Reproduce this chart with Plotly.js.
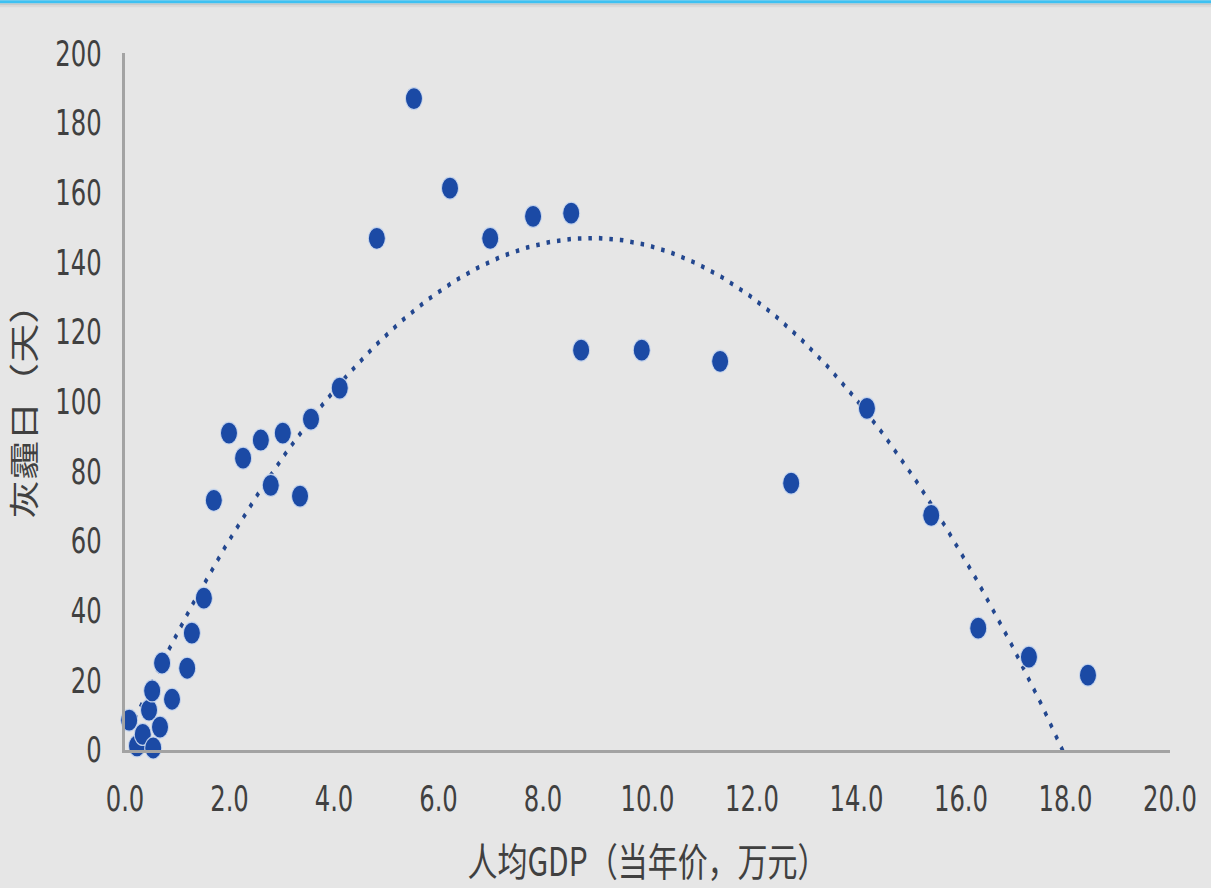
<!DOCTYPE html>
<html>
<head>
<meta charset="utf-8">
<script src="https://cdn.plot.ly/plotly-3.0.1.min.js"></script>
<style>
  html, body { margin: 0; padding: 0; background: #e6e6e6; width: 1211px; height: 888px; overflow: hidden; }
  #wrap { position: relative; width: 1211px; height: 888px; overflow: hidden; }
  #chart { position: absolute; left: 0; top: 0; width: 1211px; height: 683px; transform: scaleY(1.3); transform-origin: 0 0; }
</style>
</head>
<body>
<div id="wrap"><div id="chart"></div></div>
<script>
// Data
const gdpPerCapita = [0.08, 0.23, 0.34, 0.46, 0.52, 0.54, 0.67, 0.71, 0.90, 1.19, 1.28, 1.51, 1.70, 1.99,
  2.26, 2.60, 2.79, 3.02, 3.35, 3.56, 4.11, 4.82, 5.53, 6.22, 6.99, 7.81, 8.54, 8.73, 9.89, 11.39,
  12.75, 14.20, 15.43, 16.33, 17.30, 18.43];
const hazeDays = [8.6, 1.2, 4.5, 11.5, 17.0, 0.6, 6.6, 25.0, 14.6, 23.5, 33.6, 43.6, 71.7, 91.0,
  83.8, 89.0, 76.0, 91.0, 72.9, 95.0, 103.9, 146.9, 187.0, 161.3, 146.9, 153.2, 154.1, 114.8, 114.8, 111.6,
  76.6, 98.1, 67.4, 35.0, 26.7, 21.5];
const xTickVals = [0, 2, 4, 6, 8, 10, 12, 14, 16, 18, 20];
const yTickVals = [0, 20, 40, 60, 80, 100, 120, 140, 160, 180, 200];
const xTitle = '人均GDP（当年价，万元）';
const yTitle = '灰霾日（天）';

// Second-order polynomial trendline (least squares), like the spreadsheet trendline
function quadFit(xs, ys) {
  let s = [0, 0, 0, 0, 0], t = [0, 0, 0];
  for (let i = 0; i < xs.length; i++) {
    let p = 1;
    for (let k = 0; k < 5; k++) { s[k] += p; if (k < 3) t[k] += p * ys[i]; p *= xs[i]; }
  }
  const A = [[s[0], s[1], s[2], t[0]], [s[1], s[2], s[3], t[1]], [s[2], s[3], s[4], t[2]]];
  for (let c = 0; c < 3; c++) {
    for (let r = c + 1; r < 3; r++) {
      const f = A[r][c] / A[c][c];
      for (let k = c; k < 4; k++) A[r][k] -= f * A[c][k];
    }
  }
  const b = [0, 0, 0];
  for (let r = 2; r >= 0; r--) {
    let v = A[r][3];
    for (let k = r + 1; k < 3; k++) v -= A[r][k] * b[k];
    b[r] = v / A[r][r];
  }
  return b;
}
const coef = quadFit(gdpPerCapita, hazeDays);
const xMin = Math.min(...gdpPerCapita), xMax = Math.max(...gdpPerCapita);
const trendX = [], trendY = [];
for (let i = 0; i <= 400; i++) {
  const x = xMin + (xMax - xMin) * i / 400;
  trendX.push(x);
  trendY.push(coef[0] + coef[1] * x + coef[2] * x * x);
}

const S = 1.3;
const W = 1211, H = 888 / S;
const mL = 125, mR = 41, mT = 53 / S, mB = 138 / S;
const plotW = W - mL - mR, plotH = H - mT - mB;
const topY = 1 + mT / plotH;
const px = v => v / S / plotH; // screen pixels -> paper units (vertical)

const tickFont = { family: 'Liberation Sans Narrow, DejaVu Sans Condensed, Arial Narrow, sans-serif', size: 27, color: '#404040' };
const titleFont = { family: 'Noto Sans CJK SC, sans-serif', size: 30, color: '#404040' };

const traces = [
  {
    type: 'scatter', mode: 'lines', x: trendX, y: trendY,
    line: { color: '#23478f', width: 3.5, dash: '3.5px,7px' },
    hoverinfo: 'skip', showlegend: false
  },
  {
    type: 'scatter', mode: 'markers', x: gdpPerCapita, y: hazeDays,
    marker: { color: '#1b4aa5', size: 17, line: { color: 'rgba(205,218,240,0.9)', width: 1 } },
    cliponaxis: false, showlegend: false
  }
];

const layout = {
  width: W, height: H,
  margin: { l: mL, r: mR, t: mT, b: mB, pad: 0 },
  paper_bgcolor: '#e6e6e6', plot_bgcolor: '#e6e6e6',
  showlegend: false,
  xaxis: {
    range: [0, 20], tickvals: xTickVals, tickformat: '.1f',
    showgrid: false, zeroline: false, showline: true, linecolor: '#a3a3a3', linewidth: 2.5,
    ticks: '', tickfont: tickFont, ticklabelstandoff: 12,
    title: { text: xTitle, font: titleFont, standoff: 24 }, automargin: false
  },
  yaxis: {
    range: [0, 200], tickvals: yTickVals,
    showgrid: false, zeroline: false, showline: true, linecolor: '#a3a3a3', linewidth: 3,
    ticks: '', tickfont: tickFont, ticklabelstandoff: 15,
    title: { text: yTitle, font: titleFont, standoff: 18 }, automargin: false
  },
  shapes: [
    { type: 'rect', xref: 'paper', yref: 'paper', x0: -mL / plotW, x1: 1 + mR / plotW, y0: topY - px(7), y1: topY - px(5), fillcolor: '#dadada', line: { width: 0 } },
    { type: 'rect', xref: 'paper', yref: 'paper', x0: -mL / plotW, x1: 1 + mR / plotW, y0: topY - px(5), y1: topY - px(3), fillcolor: '#c9c9c9', line: { width: 0 } },
    { type: 'rect', xref: 'paper', yref: 'paper', x0: -mL / plotW, x1: 1 + mR / plotW, y0: topY - px(3), y1: topY, fillcolor: '#3ec1f2', line: { width: 0 } }
  ]
};

Plotly.newPlot('chart', traces, layout, { displayModeBar: false, staticPlot: true });
</script>
</body>
</html>
